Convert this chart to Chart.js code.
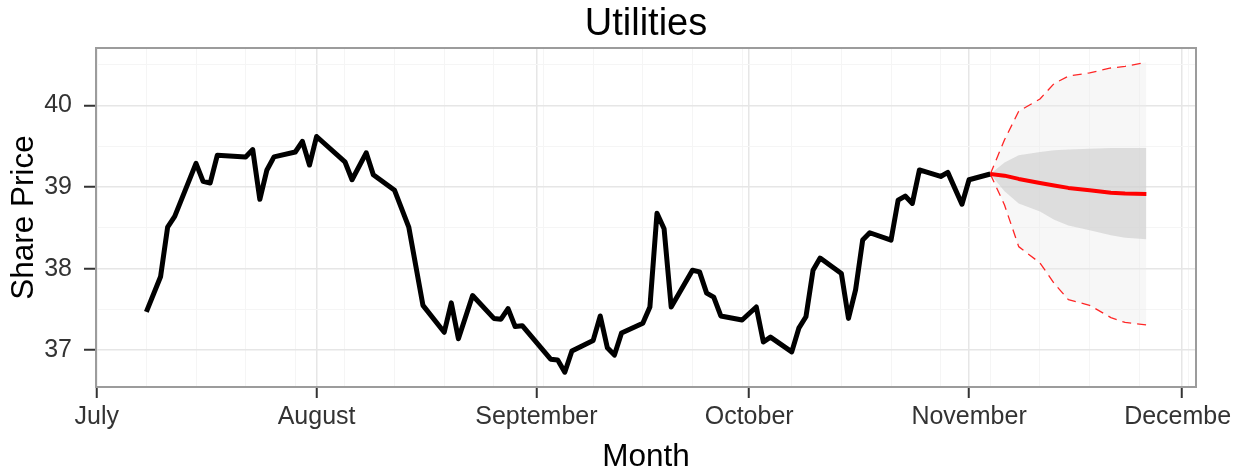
<!DOCTYPE html>
<html>
<head>
<meta charset="utf-8">
<title>Utilities</title>
<script src="https://cdn.jsdelivr.net/npm/chart.js@4.4.1/dist/chart.umd.min.js"></script>
<style>
  html, body { margin: 0; padding: 0; background: #fff; }
  body { width: 1247px; height: 476px; overflow: hidden; }
  canvas { display: block; }
</style>
</head>
<body>
<canvas id="chart" width="1232" height="476"></canvas>
<script>
// x values are days counted from July 1st
const monthDays = [0, 31, 62, 92, 123, 153];
const monthLabels = ['July', 'August', 'September', 'October', 'November', 'December'];
const yMajorTicks = [37, 38, 39, 40];
const yMinorTicks = [37.5, 38.5, 39.5, 40.5];

// closing prices (trading days)
const priceDays = [7, 9, 10, 11, 14, 15, 16, 17, 21, 22, 23, 24, 25, 28, 29, 30, 31, 35, 36, 38, 39,
  42, 44, 46, 49, 50, 51, 53, 56, 57, 58, 59, 60, 64, 65, 66, 67, 70, 71, 72, 73, 74, 77, 78, 79, 80, 81,
  84, 85, 86, 87, 88, 91, 93, 94, 95, 98, 99, 100, 101, 102, 105, 106, 107, 108, 109, 112, 113, 114, 115, 116,
  119, 120, 122, 123, 126];
const prices = [37.47, 37.90, 38.51, 38.64, 39.29, 39.07, 39.05, 39.39, 39.37, 39.46, 38.85, 39.21, 39.37, 39.43, 39.56, 39.27, 39.62, 39.31, 39.09, 39.42, 39.15,
  38.96, 38.51, 37.55, 37.22, 37.58, 37.14, 37.67, 37.39, 37.38, 37.51, 37.29, 37.30, 36.89, 36.88, 36.73, 36.99, 37.12, 37.42, 37.03, 36.94, 37.21, 37.33, 37.53, 38.68, 38.49, 37.53,
  37.98, 37.96, 37.70, 37.65, 37.42, 37.37, 37.53, 37.10, 37.16, 36.98, 37.27, 37.41, 37.98, 38.13, 37.94, 37.39, 37.74, 38.35, 38.44, 38.35, 38.84, 38.89, 38.80, 39.21,
  39.13, 39.18, 38.79, 39.09, 39.16];

// forecast
const fcDays = [126, 128, 130, 133, 135, 137, 140, 143, 145, 148];
const fcMean = [39.16, 39.14, 39.10, 39.05, 39.02, 38.99, 38.96, 38.93, 38.92, 38.915];
const fcHi80 = [39.16, 39.30, 39.39, 39.43, 39.45, 39.46, 39.47, 39.48, 39.48, 39.48];
const fcLo80 = [39.16, 38.95, 38.80, 38.70, 38.60, 38.53, 38.47, 38.41, 38.38, 38.36];
const fcHi95 = [39.16, 39.58, 39.93, 40.08, 40.27, 40.36, 40.40, 40.46, 40.48, 40.53];
const fcLo95 = [39.16, 38.78, 38.27, 38.07, 37.82, 37.62, 37.55, 37.40, 37.34, 37.31];

// weekly minor grid lines (Mondays)
const weekDays = [];
for (let d = 7; d <= 154; d += 7) weekDays.push(d);
const xTicks = [...new Set([...monthDays, ...weekDays])].sort((a, b) => a - b);

const pts = (xs, ys) => xs.map((x, i) => ({ x: x, y: ys[i] }));
const font = 'Liberation Sans, Arial, Helvetica, sans-serif';

const panelBorder = {
  id: 'panelBorder',
  afterDatasetsDraw(chart) {
    const { ctx, chartArea: a } = chart;
    ctx.save();
    ctx.strokeStyle = '#9c9c9c';
    ctx.lineWidth = 2;
    ctx.strokeRect(a.left, a.top, a.right - a.left, a.bottom - a.top);
    ctx.restore();
  }
};

new Chart(document.getElementById('chart'), {
  type: 'line',
  data: {
    datasets: [
      { data: pts(priceDays, prices), borderColor: '#000', borderWidth: 5, order: 2 },
      { data: pts(fcDays, fcMean), borderColor: '#ff0000', borderWidth: 4, order: 1 },
      { data: pts(fcDays, fcLo95), borderColor: 'rgba(255,0,0,0.85)', borderWidth: 1.3, borderDash: [9, 6], order: 5 },
      { data: pts(fcDays, fcHi95), borderColor: 'rgba(255,0,0,0.85)', borderWidth: 1.3, borderDash: [9, 6],
        fill: 2, backgroundColor: 'rgba(235,235,235,0.4)', order: 6 },
      { data: pts(fcDays, fcLo80), borderWidth: 0, borderColor: 'rgba(0,0,0,0)', order: 3 },
      { data: pts(fcDays, fcHi80), borderWidth: 0, borderColor: 'rgba(0,0,0,0)',
        fill: 4, backgroundColor: 'rgba(200,200,200,0.55)', order: 4 }
    ]
  },
  options: {
    responsive: false,
    animation: false,
    layout: { padding: { left: 0, right: 36, top: 0, bottom: 0 } },
    elements: {
      point: { radius: 0 },
      line: { tension: 0, fill: false, borderJoinStyle: 'round' }
    },
    plugins: {
      legend: { display: false },
      tooltip: { enabled: false },
      title: {
        display: true, text: 'Utilities', fullSize: false, color: '#000',
        font: { family: font, size: 38, weight: 'normal', lineHeight: 1.2 },
        padding: { top: 2, bottom: 0.4 }
      }
    },
    scales: {
      x: {
        type: 'linear', min: -0.1, max: 155,
        afterBuildTicks: axis => { axis.ticks = xTicks.map(v => ({ value: v })); },
        afterFit: scale => { scale.height = 89; },
        border: { display: false },
        grid: {
          color: c => monthDays.includes(c.tick.value) ? '#e6e6e6' : '#f5f5f5',
          lineWidth: c => monthDays.includes(c.tick.value) ? 1.5 : 1,
          tickColor: c => monthDays.includes(c.tick.value) ? '#333' : 'rgba(0,0,0,0)',
          tickWidth: 2, tickLength: 11
        },
        ticks: {
          autoSkip: false, maxRotation: 0, minRotation: 0, padding: 4, color: '#333',
          font: { family: font, size: 25 },
          callback: v => { const i = monthDays.indexOf(v); return i >= 0 ? monthLabels[i] : ''; }
        },
        title: {
          display: true, text: 'Month', color: '#000',
          font: { family: font, size: 31.5 }, padding: { top: 0, bottom: 0 }
        }
      },
      y: {
        type: 'linear', min: 36.549, max: 40.705,
        afterBuildTicks: axis => { axis.ticks = [...yMajorTicks, ...yMinorTicks].sort((a, b) => a - b).map(v => ({ value: v })); },
        afterFit: scale => { scale.width = 96; },
        border: { display: false },
        grid: {
          color: c => yMajorTicks.includes(c.tick.value) ? '#e6e6e6' : '#f5f5f5',
          lineWidth: c => yMajorTicks.includes(c.tick.value) ? 1.5 : 1,
          tickColor: c => yMajorTicks.includes(c.tick.value) ? '#333' : 'rgba(0,0,0,0)',
          tickWidth: 2, tickLength: 12
        },
        ticks: {
          autoSkip: false, padding: 12, color: '#333',
          font: { family: font, size: 25 },
          callback: v => yMajorTicks.includes(v) ? String(v) : ''
        },
        title: {
          display: true, text: 'Share Price', color: '#000',
          font: { family: font, size: 31.5 }, padding: { top: 5.3, bottom: 0 }
        }
      }
    }
  },
  plugins: [panelBorder]
});
</script>
</body>
</html>
